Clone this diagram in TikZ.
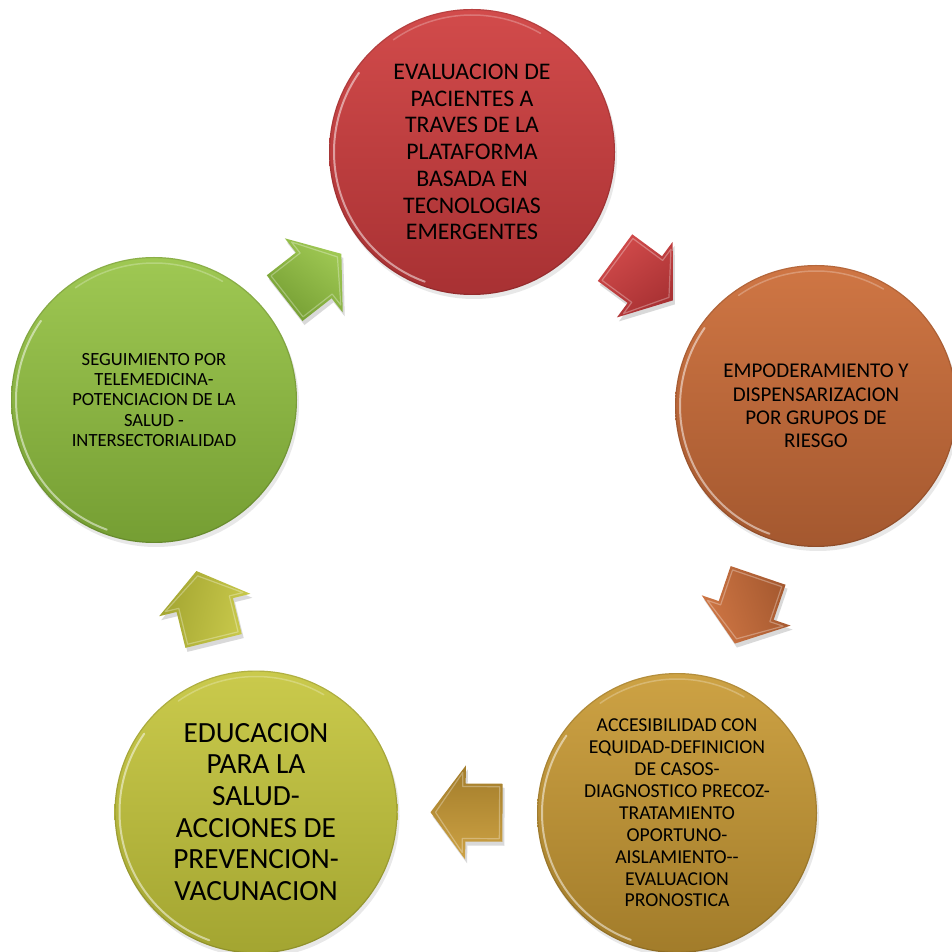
\documentclass[tikz,border=0pt]{standalone}
\usepackage{fontspec}
\setmainfont{Carlito}
\usetikzlibrary{calc,shadows}
\definecolor{redT}{HTML}{D24B4B}\definecolor{redB}{HTML}{A83133}
\definecolor{oraT}{HTML}{CF7644}\definecolor{oraB}{HTML}{A4582F}
\definecolor{golT}{HTML}{CDA244}\definecolor{golB}{HTML}{A27C2A}
\definecolor{yelT}{HTML}{CACA4C}\definecolor{yelB}{HTML}{A3A531}
\definecolor{grnT}{HTML}{9FC853}\definecolor{grnB}{HTML}{759E33}
\tikzset{
  bubble/.style={circle, inner sep=0pt, align=center, text=black,
    drop shadow={opacity=0.18, shadow xshift=2pt, shadow yshift=-4pt}},
  rim/.style={white, opacity=0.5, line width=2pt, line cap=round},
  darkrim/.style={black, opacity=0.12, line width=1.2pt},
}
\newcommand\blockarrow[3]{%
  \begin{scope}[shift={(#1)}, shift={(2,-4)}, rotate=#2]
    \fill[black, opacity=0.15] (-36,-29) -- (1,-29) -- (1,-47) -- (36,0) -- (1,47) -- (1,29) -- (-36,29) -- cycle;
  \end{scope}
  \begin{scope}[shift={(#1)}, rotate=#2]
    \shade[top color=#3T, bottom color=#3B, shading angle=-#2] (-36,-29) -- (1,-29) -- (1,-47) -- (36,0) -- (1,47) -- (1,29) -- (-36,29) -- cycle;
    \draw[white, opacity=0.3, line width=1.2pt, line join=round] (-33,-26) -- (4,-26) -- (4,-40) -- (31,0) -- (4,40) -- (4,26) -- (-33,26) -- cycle;
  \end{scope}}
\begin{document}
\begin{tikzpicture}[x=1pt, y=1pt]
\fill[white] (0,0) rectangle (952,951);
\useasboundingbox (0,0) rectangle (952,951);
\begin{scope}
\clip (0,0) rectangle (952,951);
% circles
\node[bubble, minimum size=286pt, top color=redT, bottom color=redB,
  font=\fontsize{23.8}{26.7}\selectfont] (c1) at (472,799)
  {EVALUACION DE\\PACIENTES A\\TRAVES DE LA\\PLATAFORMA\\BASADA EN\\TECNOLOGIAS\\EMERGENTES};
\node[bubble, minimum size=282pt, top color=oraT, bottom color=oraB,
  font=\fontsize{21}{23.3}\selectfont] (c2) at (816,545)
  {EMPODERAMIENTO Y\\DISPENSARIZACION\\POR GRUPOS DE\\RIESGO};
\node[bubble, minimum size=280pt, top color=golT, bottom color=golB,
  font=\fontsize{19.7}{21.9}\selectfont] (c3) at (677,138)
  {ACCESIBILIDAD CON\\EQUIDAD-DEFINICION\\DE CASOS-\\DIAGNOSTICO PRECOZ-\\TRATAMIENTO\\OPORTUNO-\\AISLAMIENTO-{}-\\EVALUACION\\PRONOSTICA};
\node[bubble, minimum size=283pt, top color=yelT, bottom color=yelB,
  font=\fontsize{29.3}{31.7}\selectfont] (c4) at (256,139)
  {EDUCACION\\PARA LA\\SALUD-\\ACCIONES DE\\PREVENCION-\\VACUNACION};
\node[bubble, minimum size=286pt, top color=grnT, bottom color=grnB,
  font=\fontsize{18.6}{20.4}\selectfont] (c5) at (154,551)
  {SEGUIMIENTO POR\\TELEMEDICINA-\\POTENCIACION DE LA\\SALUD -\\INTERSECTORIALIDAD};
% bevel rims
\foreach \c/\r in {c1/143,c2/141,c3/140,c4/141.5,c5/143}{
  \draw[darkrim] (\c) circle[radius=\r-0.6];
  \draw[rim] ($(\c)+(145:\r-5)$) arc[start angle=145, end angle=250, radius=\r-5];
  \draw[white, opacity=0.25, line width=1.5pt, line cap=round] ($(\c)+(60:\r-6)$) arc[start angle=60, end angle=125, radius=\r-6];
}
% arrows at midpoints
\coordinate (m1) at ($(c5)!0.5!(c1)$);
\coordinate (m2) at ($(c1)!0.5!(c2)$);
\coordinate (m3) at ($(c2)!0.5!(c3)$);
\coordinate (m4) at ($(c3)!0.5!(c4)$);
\coordinate (m5) at ($(c4)!0.5!(c5)$);
\blockarrow{m1}{38}{grn}
\blockarrow{m2}{-36.4}{red}
\blockarrow{m3}{-108.8}{ora}
\blockarrow{m4}{179.6}{gol}
\blockarrow{m5}{103.8}{yel}
\end{scope}
\end{tikzpicture}
\end{document}
